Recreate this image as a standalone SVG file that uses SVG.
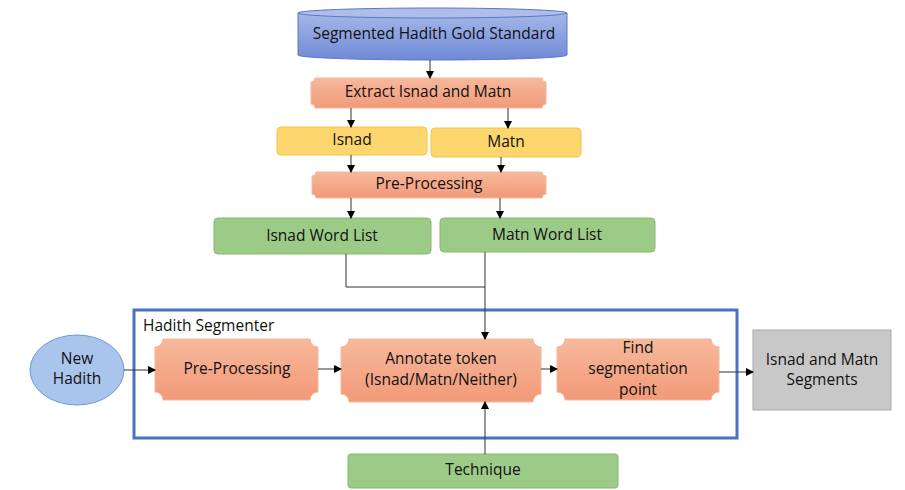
<svg xmlns="http://www.w3.org/2000/svg" width="905" height="490" viewBox="0 0 905 490">
<defs>
<marker id="a" markerWidth="8" markerHeight="8" refX="7" refY="4" orient="auto" markerUnits="userSpaceOnUse"><path d="M0,0 L8,4 L0,8 z" fill="#000"/></marker>
<linearGradient id="og" x1="0" y1="0" x2="0" y2="1"><stop offset="0" stop-color="#f7b89c"/><stop offset="1" stop-color="#f19a78"/></linearGradient>
<linearGradient id="bg" x1="0" y1="0" x2="0" y2="1"><stop offset="0" stop-color="#a6b7e8"/><stop offset="1" stop-color="#6f89d6"/></linearGradient>
</defs>
<style>
text{font-family:"Open Sans","Liberation Sans",sans-serif;font-size:15.5px;fill:#111;text-anchor:middle;dominant-baseline:middle}
.o{fill:url(#og);stroke:#f4b89e;stroke-width:1}
.y{fill:#fdd66e;stroke:#f3c44a}
.g{fill:#9ccb87;stroke:#86b96f}
.c{stroke:#333;stroke-width:1;fill:none}
</style>
<rect width="905" height="490" fill="#fff"/>
<g id="gold"><path d="M298,13 V55 A134.5,5 0 0 0 567,55 V13 Z" fill="url(#bg)" stroke="#5a78c8"/><ellipse cx="432.5" cy="13" rx="134.5" ry="5" fill="#aebde9" stroke="#5a78c8"/><text x="434" y="35">Segmented Hadith Gold Standard</text></g>
<g id="extract"><path class="o" d="M315,78 H542 A4,4 0 0 0 546,82 V104 A4,4 0 0 0 542,108 H315 A4,4 0 0 0 311,104 V82 A4,4 0 0 0 315,78 Z"/><text x="428" y="93">Extract Isnad and Matn</text></g>
<g id="isnad"><rect class="y" x="277" y="127" width="150" height="28" rx="4"/><text x="352" y="141">Isnad</text></g>
<g id="matn"><rect class="y" x="431" y="128" width="150" height="29" rx="4"/><text x="506" y="143">Matn</text></g>
<g id="pre1"><path class="o" d="M316,172 H542 A4,4 0 0 0 546,176 V194 A4,4 0 0 0 542,198 H316 A4,4 0 0 0 312,194 V176 A4,4 0 0 0 316,172 Z"/><text x="429" y="185">Pre-Processing</text></g>
<g id="isnadwl"><rect class="g" x="214" y="218" width="217" height="36" rx="4"/><text x="322" y="237">Isnad Word List</text></g>
<g id="matnwl"><rect class="g" x="440" y="218" width="215" height="34" rx="4"/><text x="547" y="236">Matn Word List</text></g>
<g id="segmenter"><rect x="134" y="310" width="603" height="128" fill="none" stroke="#4a72c0" stroke-width="3"/><text x="143" y="327" style="text-anchor:start">Hadith Segmenter</text></g>
<g id="newhadith"><ellipse cx="77" cy="370" rx="47" ry="35" fill="#a9c5ec" stroke="#6f97d6"/><text x="77" y="360">New</text><text x="77" y="380">Hadith</text></g>
<g id="pre2"><path class="o" d="M163,339 H310 A8,8 0 0 0 318,347 V392 A8,8 0 0 0 310,400 H163 A8,8 0 0 0 155,392 V347 A8,8 0 0 0 163,339 Z"/><text x="237" y="370">Pre-Processing</text></g>
<g id="annotate"><path class="o" d="M349,339 H533 A8,8 0 0 0 541,347 V394 A8,8 0 0 0 533,402 H349 A8,8 0 0 0 341,394 V347 A8,8 0 0 0 349,339 Z"/><text x="441" y="360">Annotate token</text><text x="441" y="381">(Isnad/Matn/Neither)</text></g>
<g id="find"><path class="o" d="M565,339 H711 A8,8 0 0 0 719,347 V392 A8,8 0 0 0 711,400 H565 A8,8 0 0 0 557,392 V347 A8,8 0 0 0 565,339 Z"/><text x="638" y="349">Find</text><text x="638" y="370">segmentation</text><text x="638" y="391">point</text></g>
<g id="output"><rect x="753" y="330" width="138" height="80" fill="#c8c8c8" stroke="#aaa"/><text x="822" y="361">Isnad and Matn</text><text x="822" y="381">Segments</text></g>
<g id="technique"><rect class="g" x="348" y="454" width="270" height="34" rx="3"/><text x="483" y="471">Technique</text></g>
<g id="connectors">
<path class="c" d="M430,60 V78" marker-end="url(#a)"/>
<path class="c" d="M351,108 V127" marker-end="url(#a)"/>
<path class="c" d="M508,108 V128" marker-end="url(#a)"/>
<path class="c" d="M351,155 V172" marker-end="url(#a)"/>
<path class="c" d="M501,157 V172" marker-end="url(#a)"/>
<path class="c" d="M351,198 V218" marker-end="url(#a)"/>
<path class="c" d="M500,198 V218" marker-end="url(#a)"/>
<path class="c" d="M346,254 V287 H485"/>
<path class="c" d="M485,252 V339" marker-end="url(#a)"/>
<path class="c" d="M124,370 H155" marker-end="url(#a)"/>
<path class="c" d="M318,369 H341" marker-end="url(#a)"/>
<path class="c" d="M541,369 H557" marker-end="url(#a)"/>
<path class="c" d="M719,372 H753" marker-end="url(#a)"/>
<path class="c" d="M485,454 V402" marker-end="url(#a)"/>
</g>
</svg>
